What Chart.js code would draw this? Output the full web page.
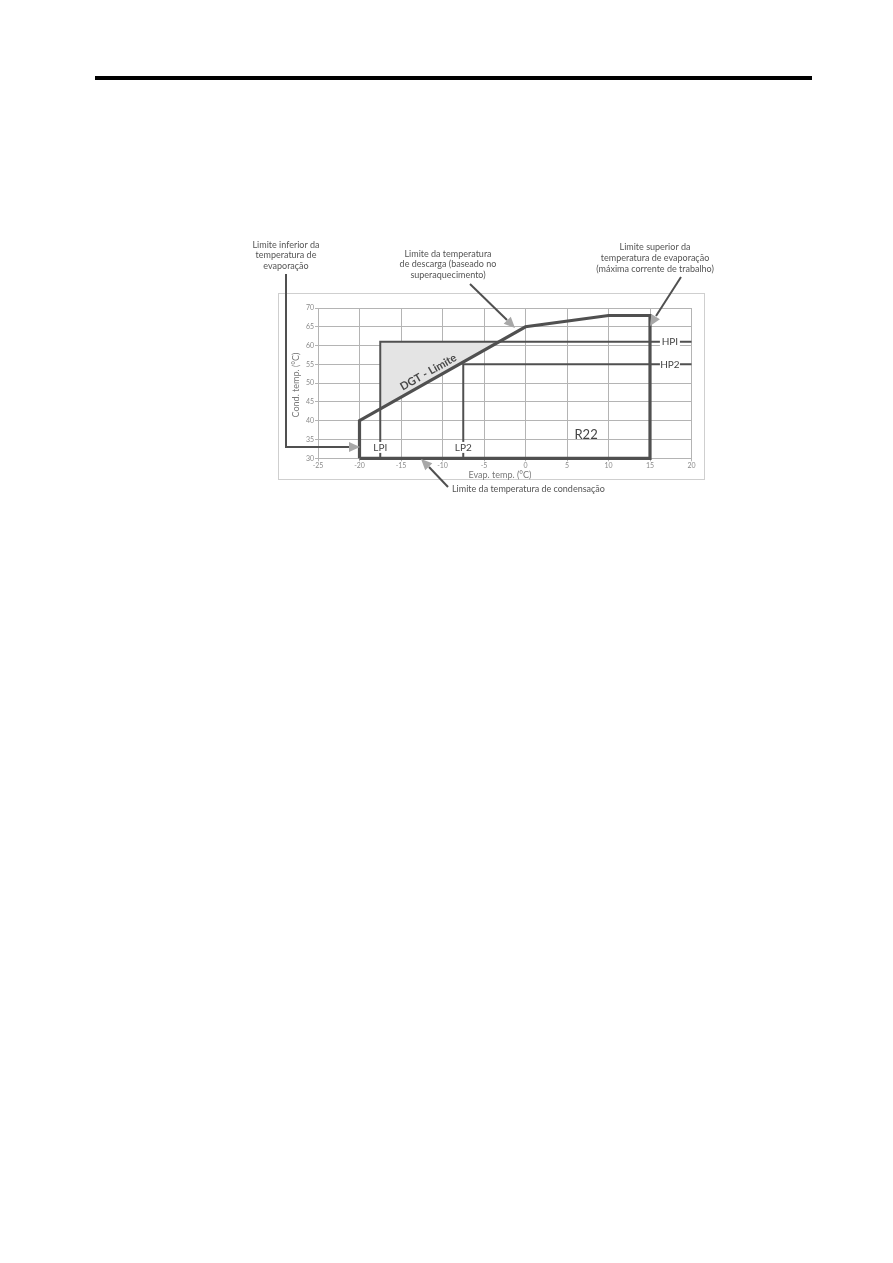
<!DOCTYPE html>
<html><head><meta charset="utf-8">
<script src="https://cdn.jsdelivr.net/npm/chart.js@4/dist/chart.umd.min.js"></script>
<style>
html,body{margin:0;padding:0;background:#fff;}
#wrap{position:relative;width:893px;height:1263px;overflow:hidden;}
#rule{position:absolute;left:95px;top:76px;width:717px;height:4px;background:#000;}
canvas{position:absolute;left:0;top:0;}
</style></head><body>
<div id="wrap"><div id="rule"></div><canvas id="c" width="893" height="1263"></canvas></div>
<script>
// ---- data ----
const xTicks = [-25,-20,-15,-10,-5,0,5,10,15,20];
const yTicks = [30,35,40,45,50,55,60,65,70];
const envelopeX = [-20,-20,0,10,15,15,-20];
const envelopeY = [30,40,65,68,68,30,30];
const lp1X = [-17.5,-17.5,20];
const lp1Y = [30,61,61];
const lp2X = [-7.5,-7.5,20];
const lp2Y = [30,55,55];
const shadeX = [-17.5,-17.5,-3.2,-17.5];
const shadeY = [43.125,61,61,43.125];
const xTitle = 'Evap. temp. (°C)';
const yTitle = 'Cond. temp. (°C)';

const pts = (xs, ys) => xs.map((x,i)=>({x:x,y:ys[i]}));
const FONT = 'Lato, "Open Sans", sans-serif';

function arrow(ctx, x1, y1, x2, y2, tx, ty){
  ctx.save();
  ctx.strokeStyle = '#505050'; ctx.lineWidth = 2;
  ctx.beginPath(); ctx.moveTo(x1,y1); ctx.lineTo(x2,y2); ctx.stroke();
  const a = Math.atan2(ty-y2, tx-x2);
  const L = 11, W = 5;
  const bx = tx - L*Math.cos(a), by = ty - L*Math.sin(a);
  ctx.fillStyle = '#a8a8a8';
  ctx.beginPath();
  ctx.moveTo(tx,ty);
  ctx.lineTo(bx + W*Math.sin(a), by - W*Math.cos(a));
  ctx.lineTo(bx - W*Math.sin(a), by + W*Math.cos(a));
  ctx.closePath(); ctx.fill();
  ctx.restore();
}
function lines(ctx, arr, cx, y0, dy){
  arr.forEach((t,i)=>ctx.fillText(t, cx, y0 + i*dy));
}

const decor = {
  id: 'decor',
  beforeDraw(chart){
    const ctx = chart.ctx;
    ctx.save();
    ctx.strokeStyle = '#cfcfcf'; ctx.lineWidth = 1;
    ctx.strokeRect(278.5, 293.5, 426, 186);
    ctx.restore();
  },
  afterDatasetsDraw(chart){
    const ctx = chart.ctx, xs = chart.scales.x, ys = chart.scales.y;
    const px = v => xs.getPixelForValue(v), py = v => ys.getPixelForValue(v);
    ctx.save();
    ctx.textAlign = 'center'; ctx.textBaseline = 'middle';
    ctx.font = '10px ' + FONT;
    const boxLabel = (t, x, y, w, h) => {
      ctx.fillStyle = '#fff'; ctx.fillRect(x - w/2, y - h/2, w, h);
      ctx.fillStyle = '#444'; ctx.fillText(t, x, y);
    };
    boxLabel('LPI', px(lp1X[0]), py(32.9), 18, 11);
    boxLabel('LP2', px(lp2X[0]), py(32.9), 18, 11);
    boxLabel('HPI', px(17.4), py(lp1Y[1]), 20, 9);
    boxLabel('HP2', px(17.4), py(lp2Y[1]), 20, 9);
    ctx.font = '13px ' + FONT; ctx.fillStyle = '#444';
    ctx.fillText('R22', px(7.3), py(36.3));
    const ang = Math.atan2(py(65)-py(40), px(0)-px(-20));
    ctx.save();
    ctx.translate(px(-11.7), py(52.9));
    ctx.rotate(ang);
    ctx.font = 'bold 11px ' + FONT; ctx.fillStyle = '#484848';
    ctx.fillText('DGT - Limite', 0, 0);
    ctx.restore();
    ctx.font = '9px ' + FONT; ctx.fillStyle = '#777';
    ctx.fillText(xTitle, 500, 475);
    ctx.save(); ctx.translate(296, 385); ctx.rotate(-Math.PI/2);
    ctx.fillText(yTitle, 0, 0); ctx.restore();
    ctx.font = '9px ' + FONT; ctx.fillStyle = '#555';
    lines(ctx, ['Limite inferior da','temperatura de','evaporação'], 286, 245, 10.5);
    lines(ctx, ['Limite da temperatura','de descarga (baseado no','superaquecimento)'], 448, 254, 10.5);
    lines(ctx, ['Limite superior da','temperatura de evaporação','(máxima corrente de trabalho)'], 655, 247, 11);
    ctx.textAlign = 'left';
    ctx.fillText('Limite da temperatura de condensação', 452, 489);
    ctx.save();
    ctx.strokeStyle = '#505050'; ctx.lineWidth = 2;
    ctx.beginPath(); ctx.moveTo(286, 274); ctx.lineTo(286, 447); ctx.lineTo(349, 447); ctx.stroke();
    ctx.restore();
    arrow(ctx, 340, 447, 349, 447, 360, 447);
    arrow(ctx, 470, 284, 507, 320, 515, 328);
    arrow(ctx, 681, 277, 656, 316, 650, 326);
    arrow(ctx, 448, 487, 429, 467, 421, 459);
    ctx.restore();
  }
};

const lineDs = (data, w, order) => ({
  data, showLine: true, borderColor: '#505050', borderWidth: w,
  pointRadius: 0, tension: 0, fill: false, clip: 6, order,
  borderJoinStyle: 'miter', borderCapStyle: 'butt'
});

new Chart(document.getElementById('c'), {
  type: 'scatter',
  data: { datasets: [
    lineDs(pts(envelopeX, envelopeY), 3.2, 1),
    lineDs(pts(lp1X, lp1Y), 2, 2),
    lineDs(pts(lp2X, lp2Y), 2, 3),
    { data: pts(shadeX, shadeY), showLine: true, borderWidth: 0, borderColor: 'rgba(0,0,0,0)',
      backgroundColor: '#e4e4e4', fill: 'shape', pointRadius: 0, tension: 0, order: 10 }
  ]},
  options: {
    responsive: false, animation: false, devicePixelRatio: 1,
    layout: { padding: { left: 288, top: 308, right: 201.5, bottom: 784.7 } },
    plugins: { legend: { display: false }, tooltip: { enabled: false } },
    scales: {
      x: {
        type: 'linear', min: -25, max: 20,
        afterBuildTicks: s => { s.ticks = xTicks.map(v => ({ value: v })); },
        afterFit: s => { s.height = 20; },
        ticks: { font: { size: 7, family: FONT }, color: '#8a8a8a', padding: 0, maxRotation: 0 },
        grid: { color: '#b4b4b4', lineWidth: 1, tickLength: 3 },
        border: { color: '#b4b4b4' }
      },
      y: {
        type: 'linear', min: 30, max: 70,
        afterBuildTicks: s => { s.ticks = yTicks.map(v => ({ value: v })); },
        afterFit: s => { s.width = 30; },
        ticks: { font: { size: 7, family: FONT }, color: '#8a8a8a', padding: 1 },
        grid: { color: '#b4b4b4', lineWidth: 1, tickLength: 3 },
        border: { color: '#b4b4b4' }
      }
    }
  },
  plugins: [decor]
});
</script>
</body></html>
